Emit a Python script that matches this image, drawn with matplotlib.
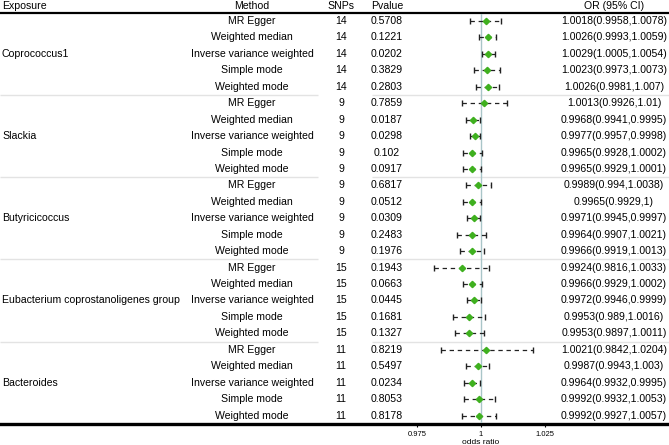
import matplotlib
matplotlib.use("Agg")
import matplotlib.pyplot as plt

plt.rcParams["font.family"] = ["Liberation Sans", "DejaVu Sans"]

exposures = ["Coprococcus1", "Slackia", "Butyricicoccus",
             "Eubacterium coprostanoligenes group", "Bacteroides"]
snps = [14, 9, 9, 15, 11]
methods = ["MR Egger", "Weighted median", "Inverse variance weighted",
           "Simple mode", "Weighted mode"]

pvalues = [
    0.5708, 0.1221, 0.0202, 0.3829, 0.2803,
    0.7859, 0.0187, 0.0298, 0.102, 0.0917,
    0.6817, 0.0512, 0.0309, 0.2483, 0.1976,
    0.1943, 0.0663, 0.0445, 0.1681, 0.1327,
    0.8219, 0.5497, 0.0234, 0.8053, 0.8178,
]
odds = [
    1.0018, 1.0026, 1.0029, 1.0023, 1.0026,
    1.0013, 0.9968, 0.9977, 0.9965, 0.9965,
    0.9989, 0.9965, 0.9971, 0.9964, 0.9966,
    0.9924, 0.9966, 0.9972, 0.9953, 0.9953,
    1.0021, 0.9987, 0.9964, 0.9992, 0.9992,
]
lower = [
    0.9958, 0.9993, 1.0005, 0.9973, 0.9981,
    0.9926, 0.9941, 0.9957, 0.9928, 0.9929,
    0.994, 0.9929, 0.9945, 0.9907, 0.9919,
    0.9816, 0.9929, 0.9946, 0.989, 0.9897,
    0.9842, 0.9943, 0.9932, 0.9932, 0.9927,
]
upper = [
    1.0078, 1.0059, 1.0054, 1.0073, 1.007,
    1.01, 0.9995, 0.9998, 1.0002, 1.0001,
    1.0038, 1, 0.9997, 1.0021, 1.0013,
    1.0033, 1.0002, 0.9999, 1.0016, 1.0011,
    1.0204, 1.003, 0.9995, 1.0053, 1.0057,
]
xticks = [0.975, 1, 1.025]

W, H = 669, 445
row0, step = 21.0, 16.44  # pixel position of first row and row spacing


def row_of(px):
    return (px - row0) / step


fig = plt.figure(figsize=(W / 100, H / 100), dpi=100)

# table axes: x in pixels, y in row units
tab = fig.add_axes([0, 0, 1, 1])
tab.set_xlim(0, W)
tab.set_ylim(row_of(H), row_of(0))
tab.axis("off")

fs = 7.6
col_method, col_snp, col_p, col_or = 252, 341, 387, 614
hy = row_of(6)
tab.text(2, hy, "Exposure", ha="left", va="center", fontsize=fs)
tab.text(col_method, hy, "Method", ha="center", va="center", fontsize=fs)
tab.text(col_snp, hy, "SNPs", ha="center", va="center", fontsize=fs)
tab.text(col_p, hy, "Pvalue", ha="center", va="center", fontsize=fs)
tab.text(col_or, hy, "OR (95% CI)", ha="center", va="center", fontsize=fs)

nm = len(methods)
for g, (name, n) in enumerate(zip(exposures, snps)):
    tab.text(2, g * nm + 2, name, ha="left", va="center", fontsize=fs)
    for k, m in enumerate(methods):
        i = g * nm + k
        tab.text(col_method, i, m, ha="center", va="center", fontsize=fs)
        tab.text(col_snp, i, str(n), ha="center", va="center", fontsize=fs)
        tab.text(col_p, i, f"{pvalues[i]:g}", ha="center", va="center", fontsize=fs)
        tab.text(col_or, i, f"{odds[i]:g}({lower[i]:g},{upper[i]:g})",
                 ha="center", va="center", fontsize=fs)
    if g > 0:
        # group separator (no border under the SNPs column)
        ysep = g * nm - 0.5
        tab.hlines([ysep, ysep], [0, 372], [318, W], colors="#e3e3e3", lw=1)

tab.axhline(row_of(13), color="black", lw=1.6)
tab.axhline(row_of(423.5), color="black", lw=2.4)

# forest axes
x_one, scale = 481, 2560.0
left_px, right_px = 391, 571
top_px, bot_px = 14, 423
fax = fig.add_axes([left_px / W, (H - bot_px) / H,
                    (right_px - left_px) / W, (bot_px - top_px) / H])
fax.patch.set_alpha(0)
fax.set_xlim(1 + (left_px - x_one) / scale, 1 + (right_px - x_one) / scale)
fax.set_ylim(row_of(bot_px), row_of(top_px))
for s in fax.spines.values():
    s.set_visible(False)
fax.set_yticks([])
fax.set_xticks(xticks)
fax.set_xticklabels(["0.975", "1", "1.025"])
fax.tick_params(axis="x", labelsize=5.5, length=3, width=0.8, pad=3)
fax.set_xlabel("odds ratio", fontsize=6, labelpad=0.5)

rows = list(range(len(odds)))
fax.axvline(1, color="#a9c5c8", lw=1, zorder=1)
fax.hlines(rows, lower, upper, colors="#222222", lw=0.9,
           linestyles=(0, (3.5, 3.0)), zorder=2)
fax.plot(lower, rows, ls="none", marker="|", ms=4, mew=1.0, color="#222222", zorder=2)
fax.plot(upper, rows, ls="none", marker="|", ms=4, mew=1.0, color="#222222", zorder=2)
fax.plot(odds, rows, ls="none", marker="D", ms=3.2, color="#3fb01f",
         mec="#3fb01f", zorder=3)

fig.savefig("out.png", dpi=100)
